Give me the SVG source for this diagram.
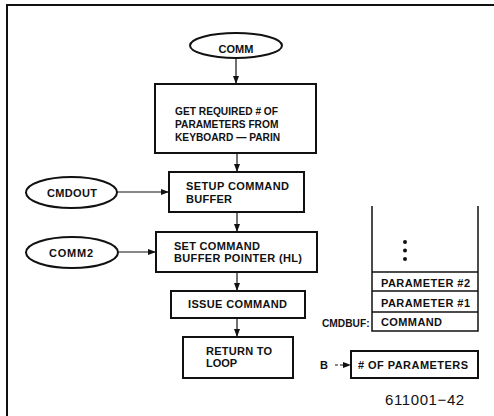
<svg xmlns="http://www.w3.org/2000/svg" width="494" height="416" viewBox="0 0 494 416">
<defs>
<style>
.b{fill:#fff;stroke:#111;stroke-width:2}
.t{font-family:"Liberation Sans",Arial,sans-serif;font-weight:bold;font-size:11px;fill:#111}
.s{font-size:10.2px}
.c{stroke:#111;stroke-width:1.2;fill:none}
.thin{stroke:#111;stroke-width:1.5;fill:none}
</style>
<marker id="ah" markerWidth="8" markerHeight="6" refX="8" refY="3" orient="auto" markerUnits="userSpaceOnUse">
<path d="M0,0 L8,3 L0,6 Z" fill="#111"/>
</marker>
</defs>
<rect width="494" height="416" fill="#fff"/>
<path d="M7,416 V5 H494" fill="none" stroke="#111" stroke-width="2"/>
<g id="connectors">
<line class="c" x1="236" y1="58" x2="236" y2="84" marker-end="url(#ah)"/>
<line class="c" x1="237" y1="153" x2="237" y2="172" marker-end="url(#ah)"/>
<line class="c" x1="117" y1="192" x2="169" y2="192" marker-end="url(#ah)"/>
<line class="c" x1="237" y1="212" x2="237" y2="232" marker-end="url(#ah)"/>
<line class="c" x1="118" y1="252" x2="156" y2="252" marker-end="url(#ah)"/>
<line class="c" x1="237" y1="272" x2="237" y2="291" marker-end="url(#ah)"/>
<line class="c" x1="237" y1="318" x2="237" y2="337" marker-end="url(#ah)"/>
<line class="c" x1="335" y1="365" x2="351" y2="365" stroke-dasharray="3,2" marker-end="url(#ah)"/>
</g>
<g id="comm">
<ellipse class="b" cx="236" cy="45.5" rx="46" ry="12.5"/>
<text class="t" x="236" y="53" text-anchor="middle" font-size="12">COMM</text>
</g>
<g id="parin">
<rect class="b" x="155" y="84" width="161" height="69"/>
<text class="t s" x="175" y="115">GET REQUIRED # OF</text>
<text class="t s" x="175" y="128">PARAMETERS FROM</text>
<text class="t s" x="175" y="141">KEYBOARD — PARIN</text>
</g>
<g id="cmdout">
<ellipse class="b" cx="71.5" cy="192.5" rx="45.5" ry="15.5"/>
<text class="t" x="47" y="197" textLength="50" lengthAdjust="spacing">CMDOUT</text>
</g>
<g id="setup">
<rect class="b" x="169" y="172" width="135" height="40"/>
<text class="t" x="186" y="190" textLength="103" lengthAdjust="spacing">SETUP COMMAND</text>
<text class="t" x="186" y="203" textLength="46" lengthAdjust="spacing">BUFFER</text>
</g>
<g id="comm2">
<ellipse class="b" cx="72" cy="252.5" rx="46" ry="15.5"/>
<text class="t" x="49" y="257" textLength="44" lengthAdjust="spacing">COMM2</text>
</g>
<g id="setptr">
<rect class="b" x="156" y="232" width="161" height="40"/>
<text class="t" x="174" y="250" textLength="86" lengthAdjust="spacing">SET COMMAND</text>
<text class="t" x="174" y="262" textLength="128" lengthAdjust="spacing">BUFFER POINTER (HL)</text>
</g>
<g id="issue">
<rect class="b" x="171" y="291" width="134" height="27"/>
<text class="t" x="188" y="308" textLength="99" lengthAdjust="spacing">ISSUE COMMAND</text>
</g>
<g id="return">
<rect class="b" x="183" y="337" width="110" height="41"/>
<text class="t" x="206" y="355" textLength="66" lengthAdjust="spacing">RETURN TO</text>
<text class="t" x="206" y="367" textLength="31" lengthAdjust="spacing">LOOP</text>
</g>
<g id="cmdbuf">
<path class="thin" d="M372,206 V331 H478 V206"/>
<line class="thin" x1="372" y1="272" x2="478" y2="272"/>
<line class="thin" x1="372" y1="291" x2="478" y2="291"/>
<line class="thin" x1="372" y1="312" x2="478" y2="312"/>
<circle cx="405" cy="242" r="2" fill="#111"/>
<circle cx="405" cy="250.5" r="2" fill="#111"/>
<circle cx="405" cy="259" r="2" fill="#111"/>
<text class="t" x="381" y="287" textLength="89" lengthAdjust="spacing">PARAMETER #2</text>
<text class="t" x="381" y="307" textLength="89" lengthAdjust="spacing">PARAMETER #1</text>
<text class="t" x="381" y="326" textLength="61" lengthAdjust="spacing">COMMAND</text>
<text class="t s" x="322" y="327">CMDBUF:</text>
</g>
<g id="nparams">
<rect class="b" x="351" y="351" width="127" height="27"/>
<text class="t" x="358" y="369" textLength="110" lengthAdjust="spacing"># OF PARAMETERS</text>
<text class="t" x="320" y="369">B</text>
</g>
<text x="385" y="405" font-family="'Liberation Sans',Arial,sans-serif" font-size="15" letter-spacing="0.6" fill="#111">611001−42</text>
</svg>
